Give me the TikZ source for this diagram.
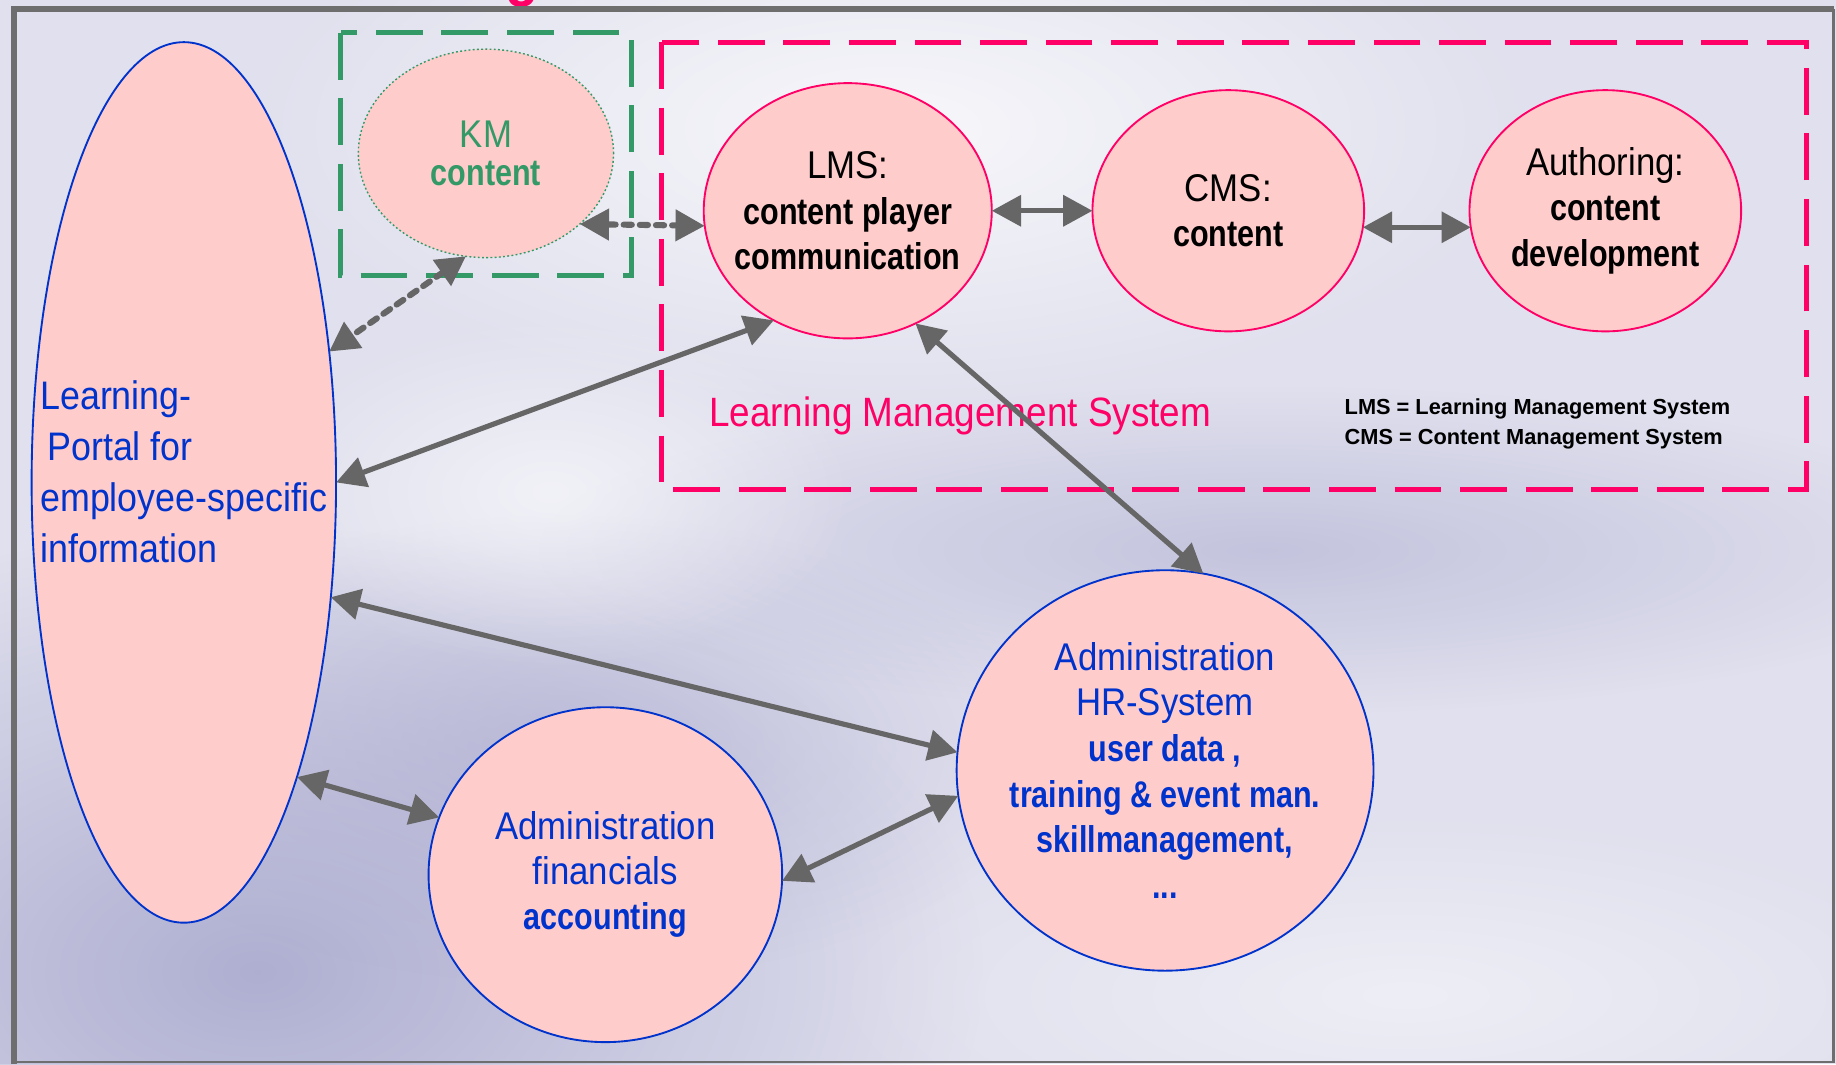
\documentclass[tikz,border=0pt]{standalone}
\usepackage{fontspec}
\newfontfamily\rgf{Liberation Sans}[FakeStretch=0.9]
\newfontfamily\bdf{Liberation Sans}[FakeStretch=0.82]
\newfontfamily\legf{Liberation Sans}
\usetikzlibrary{arrows.meta,shapes.geometric,fadings}
\definecolor{bgbase}{RGB}{224,224,238}
\definecolor{bgdark}{RGB}{172,172,208}
\definecolor{nodefill}{RGB}{255,204,204}
\definecolor{bblue}{RGB}{0,51,204}
\definecolor{lpink}{RGB}{255,0,102}
\definecolor{kgreen}{RGB}{51,153,102}
\definecolor{agray}{RGB}{102,102,102}
\definecolor{fgray}{RGB}{110,110,110}
\tikzfading[name=glow, inner color=transparent!0, outer color=transparent!100]
\newcommand\rgtxt{\rgf\fontsize{16.5pt}{19.3pt}\selectfont}
\newcommand\bdtxt[1]{{\bdf\bfseries\fontsize{15.9pt}{19.3pt}\selectfont #1}}
\tikzset{
  bub/.style={ellipse, fill=nodefill, inner sep=0pt, outer sep=0pt, line width=0.8pt},
  bubB/.style={bub, draw=bblue},
  bubP/.style={bub, draw=lpink},
  bubG/.style={bub, draw=kgreen, densely dotted, line width=0.6pt},
  txt/.style={align=center, inner sep=0pt},
  conn/.style={draw=agray, line width=2.2pt,
    {Triangle[length=12.5pt,width=13pt,fill=agray]}-{Triangle[length=12.5pt,width=13pt,fill=agray]}},
  dconn/.style={conn, dash pattern=on 3.5pt off 3.4pt, line cap=round, line width=2.6pt},
  dbox/.style={line width=2.1pt, dash pattern=on 20pt off 8pt}
}
\begin{document}
\begin{tikzpicture}[x=0.5pt,y=-0.5pt]
\useasboundingbox (0,0) rectangle (1568,909);
% background
\fill[bgbase] (0,0) rectangle (1568,909);
\fill[white, opacity=0.75, path fading=glow] (760,110) ellipse (560 and 240);
\fill[bgdark, opacity=0.95, path fading=glow] (220,830) ellipse (620 and 380);
\fill[bgdark, opacity=0.6, path fading=glow] (480,640) ellipse (420 and 200);
\fill[bgdark, opacity=0.55, path fading=glow] (1080,470) ellipse (620 and 140);
\fill[white, opacity=0.55, path fading=glow] (470,420) ellipse (260 and 150);
\fill[white, opacity=0.45, path fading=glow] (1200,850) ellipse (500 and 160);
% partial title letter
\begin{scope}
\clip (0,0) rectangle (1568,7);
\node[anchor=base, inner sep=0pt, text=lpink, font=\rgf\bfseries\fontsize{26pt}{26pt}\selectfont] (titleg) at (446,-5) {g};
\end{scope}
% dashed boxes
\draw[kgreen, dbox] (291,28) rectangle (539,235);
\draw[lpink, dbox] (565,36) rectangle (1543,418);
% ellipses
\node[bubB, minimum width=130pt, minimum height=376pt] (portal) at (157,412) {};
\node[bubG, minimum width=109pt, minimum height=89pt] (km) at (415,131) {};
\node[bubP, minimum width=123pt, minimum height=109pt] (lms) at (724,180) {};
\node[bubP, minimum width=116pt, minimum height=103pt] (cms) at (1049,180) {};
\node[bubP, minimum width=116pt, minimum height=103pt] (auth) at (1371,180) {};
\node[bubB, minimum width=178pt, minimum height=171pt] (hr) at (995,658) {};
\node[bubB, minimum width=151pt, minimum height=143pt] (fin) at (517,747) {};
% texts
\node[txt, text=kgreen, font=\rgf\fontsize{16.5pt}{16.5pt}\selectfont] (kmtext) at (km) {KM\\\bdtxt{content}};
\node[txt, font=\rgtxt] (lmstext) at (lms) {LMS:\\\bdtxt{content player}\\\bdtxt{communication}};
\node[txt, font=\rgtxt] (cmstext) at (cms) {CMS:\\\bdtxt{content}};
\node[txt, font=\rgtxt] (authtext) at (auth) {Authoring:\\\bdtxt{content}\\\bdtxt{development}};
\node[txt, text=bblue, font=\rgf\fontsize{16.5pt}{19.5pt}\selectfont] (hrtext) at (hr) {Administration\\HR-System\\\bdtxt{user data ,}\\\bdtxt{training \& event man.}\\\bdtxt{skillmanagement,}\\\bdtxt{...}};
\node[txt, text=bblue, font=\rgtxt] (fintext) at (fin) {Administration\\financials\\\bdtxt{accounting}};
\node[anchor=west, align=left, inner sep=0pt, text=bblue, font=\rgf\fontsize{17pt}{21.7pt}\selectfont] (portaltext) at (34,403) {Learning-\\\hspace*{3pt}Portal for\\employee-specific\\information};
\node[inner sep=0pt, text=lpink, font=\rgf\fontsize{17.5pt}{20pt}\selectfont] (lmslabel) at (820,355) {Learning Management System};
\node[anchor=west, align=left, inner sep=0pt, font=\legf\bfseries\fontsize{9.3pt}{13pt}\selectfont] (legend) at (1148,362) {LMS = Learning Management System\\CMS = Content Management System};
% connectors
\draw[dconn] (km.-37) -- (lms.186);
\draw[dconn] (km.259) -- (portal.42);
\draw[conn] (lms.east) -- (cms.west);
\draw[conn] (cms.-7) -- (auth.187);
\draw[conn] (lms.236) -- (portal.east);
\draw[conn] (lms.-59) -- (hr.79);
\draw[conn] (portal.-38) -- (hr.175);
\draw[conn] (portal.-69) -- (fin.161);
\draw[conn] (fin.-2) -- (hr.187);
% frame
\draw[fgray, line width=2.6pt] (12,909) -- (12,8) -- (1566,8);
\draw[fgray, line width=1.2pt] (1566,8) -- (1566,907) -- (12,907);
\end{tikzpicture}
\end{document}
